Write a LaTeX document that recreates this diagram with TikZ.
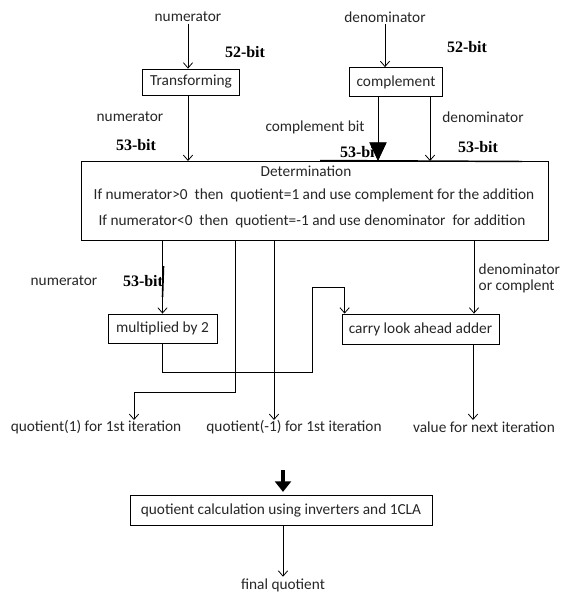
\documentclass[tikz,border=0pt]{standalone}
\usepackage{fontspec}
\setmainfont{Carlito}
\newfontfamily\bitfont{Liberation Serif}
\usetikzlibrary{arrows.meta}

\begin{document}
\begin{tikzpicture}[x=0.75pt, y=-0.75pt, line width=0.6pt,
    >={Straight Barb[length=4pt, width=7pt]},
    lbl/.style={font=\fontsize{11.5}{13}\selectfont, text=black!85, inner sep=1pt},
    bits/.style={font=\bitfont\bfseries\fontsize{12}{14}\selectfont, inner sep=1pt},
    box/.style={draw, lbl, text=black!85, minimum height=22pt}]
    % --- SETTINGS ---
    \def\px{0.75pt}   % one pixel of the original
    \useasboundingbox (0,0) rectangle (563,595);

    % --- INPUT STAGE ---
    \node[lbl] (num) at (188,17) {numerator};
    \node[lbl] (den) at (385,17) {denominator};
    \node[box, minimum width=97*\px, minimum height=26*\px] (trans) at (191,82) {Transforming};
    \node[box, minimum width=93*\px, minimum height=29*\px] (comp) at (396,82) {complement};

    \node[bits] (bitA) at (245,52) {52-bit};
    \node[bits] (bitB) at (467,47) {52-bit};
    \node[lbl] (numB) at (130,117) {numerator};
    \node[bits] (bitC) at (136,145) {53-bit};
    \node[lbl] (cbit) at (315,127) {complement bit};
    \node[lbl] (denB) at (483,117) {denominator};
    \node[bits] (bitD) at (360,152) {53-bit};
    \node[bits] (bitE) at (478,147) {53-bit};

    % --- DETERMINATION ---
    \node[draw, minimum width=467*\px, minimum height=79*\px] (det) at (314.5,200.5) {};
    \node[lbl] (detA) at (306,171) {Determination};
    \node[lbl] (detB) at (314,195) {If numerator>0 \ then \ quotient=1 and use complement for the addition};
    \node[lbl] (detC) at (312,221) {If numerator<0 \ then \ quotient=-1 and use denominator \ for addition};
    \draw[line width=1.1pt] (320,160.5) -- (522,161.5);

    \coordinate (inN) at (188,161);
    \coordinate (inC) at (378,161);
    \coordinate (inD) at (430,161);

    \draw[->] (num) -- (num |- trans.north);
    \draw[->] (den) -- (den |- comp.north);
    \draw[->] (trans.south -| inN) -- (inN);
    \draw[-{Triangle[length=14pt, width=13pt]}] (comp.south -| inC) -- (inC);
    \draw[->] (comp.south -| inD) -- (inD);

    % --- SECOND STAGE ---
    \node[box, minimum width=109*\px, minimum height=29*\px] (mul) at (162.5,328.5) {multiplied by 2};
    \node[box, minimum width=157*\px, minimum height=30*\px] (cla) at (420.5,329) {carry look ahead adder};

    \node[lbl] (numC) at (64,281) {numerator};
    \node[bits] (bitF) at (143,281) {53-bit};
    \node[lbl, align=left, anchor=west] (denC) at (477,278) {denominator\\[-1pt]or complent};

    \coordinate (tapB) at (235,240);
    \coordinate (tapC) at (274,240);
    \coordinate (tapD) at (474,240);

    \draw[->] (det.south -| mul) -- (mul);
    \draw[line width=1.2pt] (163.5,266) -- (162.5,297);
    \draw[->] (mul.south) -- ++(0,29) -| ++(150,-85) -| ([xshift=3*\px]cla.north west);
    \draw[->] (tapD) -- (tapD |- cla.north);

    % --- FIRST ITERATION OUTPUTS ---
    \node[lbl] (outA) at (96,427) {quotient(1) for 1st iteration};
    \node[lbl] (outB) at (294,427) {quotient(-1) for 1st iteration};
    \node[lbl] (outC) at (484,427) {value for next iteration};
    \coordinate (endA) at (134,420);
    \coordinate (endB) at (274,420);
    \coordinate (endC) at (473,420);

    \draw[->] (tapB) -- ++(0,152) -| (endA);
    \draw[->] (tapC) -- (endB);
    \draw[->] (cla.south -| endC) -- (endC);

    % --- FINAL STAGE ---
    \node[box, minimum width=302*\px, minimum height=30*\px] (fin) at (281,510) {quotient calculation using inverters and 1CLA};
    \node[lbl] (res) at (283,585) {final quotient};
    \coordinate (top) at (283,470);

    \draw[line width=3.5pt, -{Triangle[length=8pt, width=12pt]}, shorten >=2pt] (top) -- (top |- fin.north);
    \draw[->] (fin.south -| res.north) -- (res.north);

\end{tikzpicture}
\end{document}
